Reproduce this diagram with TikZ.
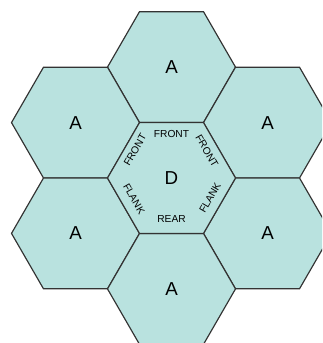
\documentclass[tikz,border=0pt]{standalone}
\usepackage{fontspec}
\setmainfont{Liberation Sans}
\usetikzlibrary{positioning}
\definecolor{hexfill}{RGB}{185,226,223}

\begin{document}
\begin{tikzpicture}[
  x=0.03cm, y=-0.03cm,
  hexline/.style={draw=black!80, line width=1pt, fill=hexfill,
                  line join=round},
  unit/.style={inner sep=1pt, font=\fontsize{16}{19}\selectfont},
  side/.style={inner sep=0pt, font=\fontsize{8.7}{10}\selectfont}
]
\path[use as bounding box, clip] (0,0) rectangle (322,343);
% the seven hexes
\foreach \cx/\cy in {171.5/67.1, 75.5/122.6, 267.5/122.6, 75.5/233.4,
                     267.5/233.4, 171.5/288.9, 171.5/178}
  \draw[hexline] (\cx,\cy) +(0:64) -- +(60:64) -- +(120:64) -- +(180:64)
    -- +(240:64) -- +(300:64) -- cycle;
% ring of attackers round the defender
\node[unit] (aN)  at (171.5,67.1)  {A};
\node[unit] (aNW) at (75.5,122.6)  {A};
\node[unit] (aNE) at (267.5,122.6) {A};
\node[unit] (aSW) at (75.5,233.4)  {A};
\node[unit] (aSE) at (267.5,233.4) {A};
\node[unit] (aS)  at (171.5,288.9) {A};
\node[unit] (dC)  at (171.5,178)   {D};
% facings of the defender
\node[side]             (fN)  at (171.5,134) {FRONT};
\node[side, rotate=60]  (fNW) at (135,150)   {FRONT};
\node[side, rotate=-60] (fNE) at (207,151)   {FRONT};
\node[side, rotate=-60] (kSW) at (134,199)   {FLANK};
\node[side, rotate=60]  (kSE) at (210,198)   {FLANK};
\node[side]             (rS)  at (171.5,219) {REAR};
\end{tikzpicture}
\end{document}
